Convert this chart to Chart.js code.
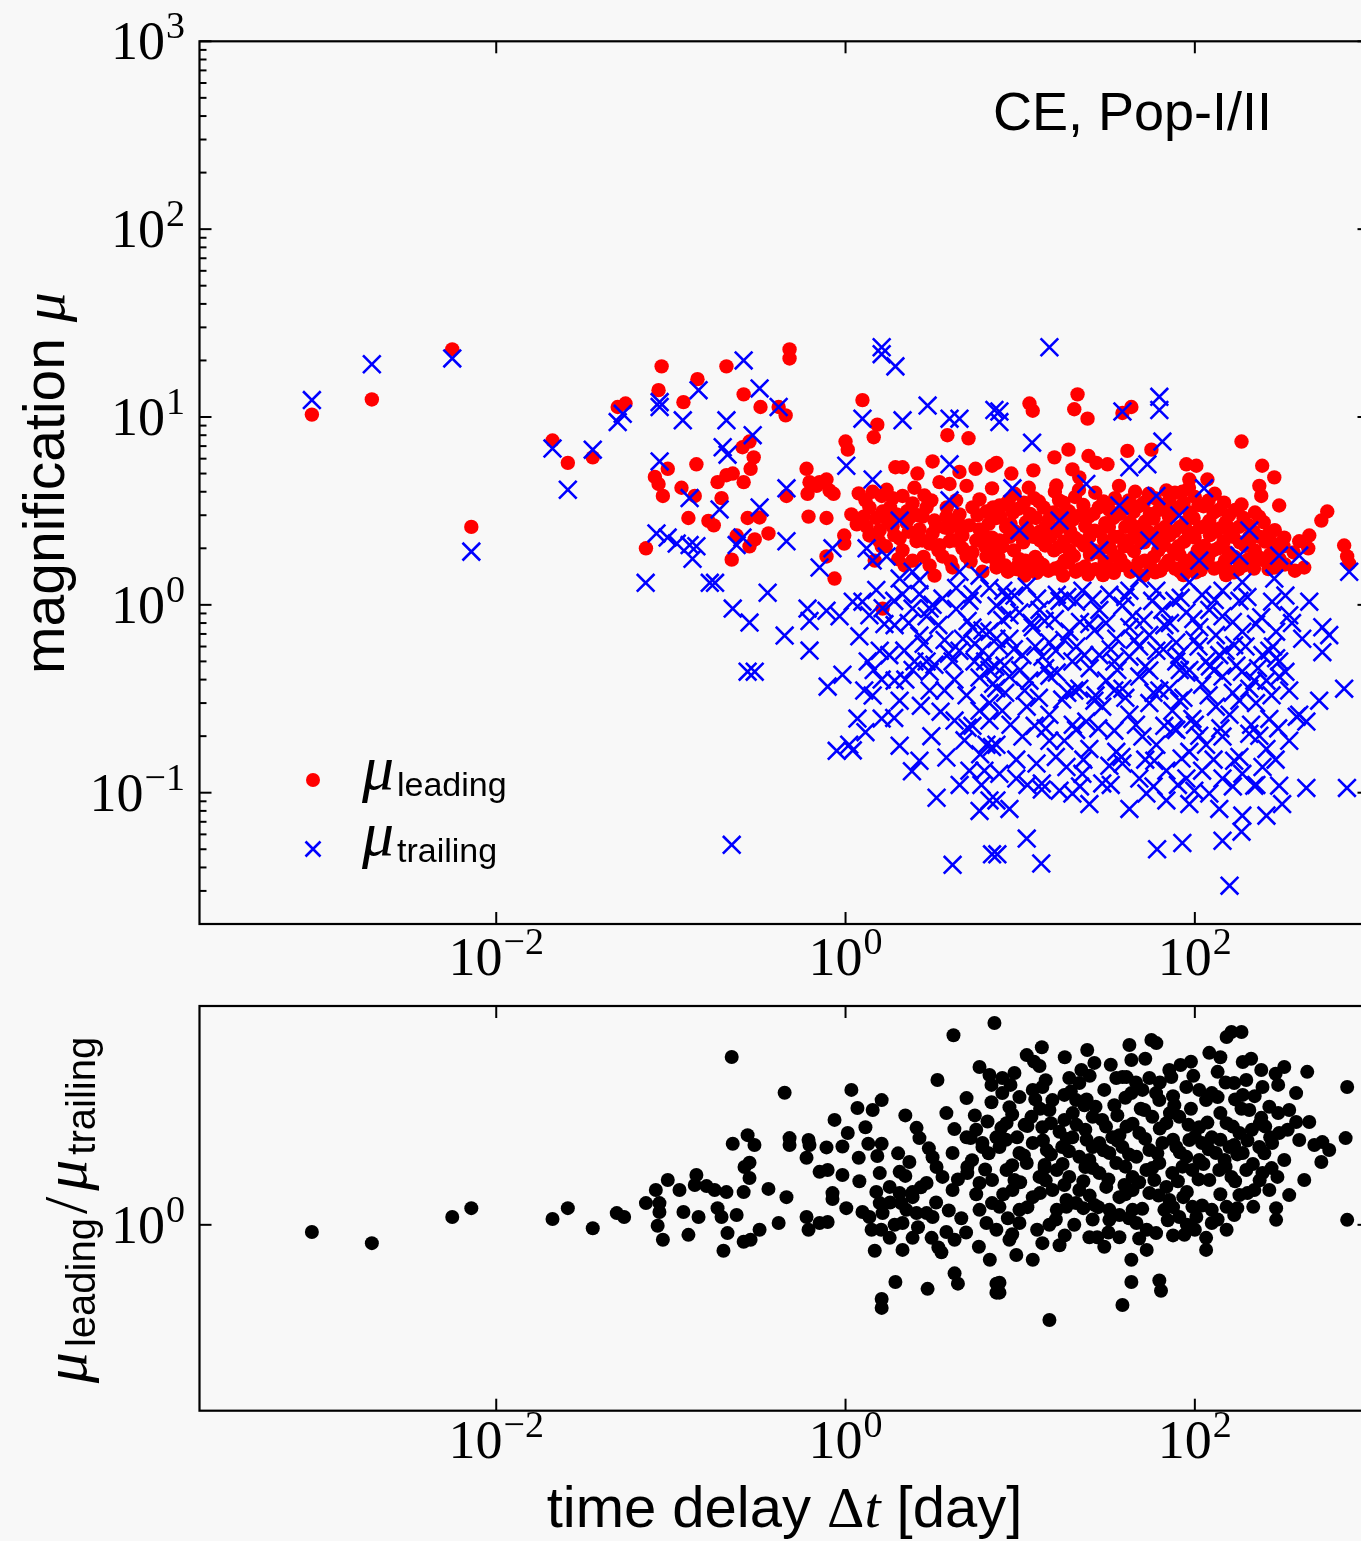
<!DOCTYPE html>
<html>
<head>
<meta charset="utf-8">
<title>CE, Pop-I/II magnification vs time delay</title>
<script src="https://cdn.jsdelivr.net/npm/chart.js@4.4.1/dist/chart.umd.min.js"></script>
<style>
  html, body { margin: 0; padding: 0; background: #f8f8f8; overflow: hidden; width: 1361px; height: 1541px; }
  .panel { position: absolute; left: 0; }
  canvas { display: block; }
</style>
</head>
<body>
<div class="panel" style="top:0;width:1400px;height:990px"><canvas id="muPanel" width="1400" height="990" style="width:1400px;height:990px"></canvas></div>
<div class="panel" style="top:990px;width:1400px;height:551px"><canvas id="ratioPanel" width="1400" height="551" style="width:1400px;height:551px"></canvas></div>
<script>
// ---- data: [time delay Δt in days, value] ----
const leadingMu = [
  [0.00088,10.3],[0.00194,12.4],[0.0056,22.9],[0.0072,2.6],[0.021,7.5],[0.0257,5.7],[0.0357,6.1],[0.0496,11.3],[0.055,11.8],
  [0.478,22.9],[0.478,20.5],[0.0885,18.6],[0.208,18.6],[0.142,15.9],[0.085,13.9],[0.118,12.0],[0.261,13.2],[0.326,11.3],[0.414,11.3],[0.454,10.2],
  [1.25,12.3],[1.52,9.1],[1.45,7.8],[3.83,8.0],[5.06,7.7],[1.0,7.4],[1.03,6.7],
  [0.096,5.3],[0.081,4.8],[0.085,4.4],[0.09,3.8],[0.14,5.6],[0.115,4.2],[0.137,3.8],[0.126,2.9],[0.164,2.8],[0.176,2.65],[0.185,4.5],[0.208,4.9],[0.226,5.0],[0.195,3.7],[0.261,4.5],[0.286,5.3],[0.298,6.1],[0.257,6.9],[0.282,7.4],
  [0.072,2.0],[0.223,1.74],[0.238,2.34],[0.275,2.9],[0.322,2.92],[0.282,2.05],[0.302,2.23],[0.362,2.4],[0.459,3.8],
  [0.598,5.3],[0.622,4.5],[0.683,4.3],[0.71,4.5],[0.778,4.65],[0.81,4.06],[0.606,3.9],[0.854,3.9],[0.614,2.95],[0.778,2.9],[0.778,1.81],[0.865,1.38],[0.983,2.34],[0.983,2.12],[1.08,3.03],[1.16,2.68],[1.19,3.92],[1.63,0.955],[1.61,2.05],
  [1.93,5.4],[2.12,5.4],[2.58,5.0],[3.15,5.8],[5.55,5.3],[6.9,5.5],
  [1.43,4.0],[1.61,3.8],[1.86,3.7],[2.12,3.8],[2.42,3.47],[2.91,3.3],[3.45,4.5],[3.94,4.4],[4.93,4.3],[5.85,3.64],[6.9,4.17],
  [1.37,3.3],[1.63,3.14],[1.96,3.03],[2.32,2.9],[2.76,2.95],[3.78,2.95],[4.49,3.03],[5.33,3.3],[6.41,3.14],[7.31,2.9],
  [1.32,2.61],[1.57,2.5],[1.86,2.61],[2.23,2.75],[2.65,2.52],[3.15,2.4],[3.94,2.18],[4.67,2.34],[5.85,2.52],[6.9,2.28],
  [1.37,2.34],[2.12,1.95],[2.42,1.72],[3.03,1.62],[3.59,1.81],[4.1,1.58],[4.93,1.81],[6.08,1.5],[7.31,1.58],
  [2.55,2.18],[3.03,2.12],[3.45,2.08],[5.33,1.9],[6.41,1.81],
  [1.74,2.81],[2.04,2.26],[2.83,3.82],[3.23,2.81],[4.3,3.6],[4.67,2.0],[5.6,2.2],[6.67,1.95],[2.18,1.62],[3.23,1.43],[4.21,2.2],[1.47,1.72],[1.72,4.1],[4.49,5.1],[7.61,3.38],[7.61,2.2],[3.69,2.58],[2.48,4.2],
  [1.3,3.6],[1.5,2.9],[1.55,2.2],[1.8,3.3],[1.9,2.35],[2.0,1.75],[2.25,3.15],[2.3,2.45],[2.6,3.0],[2.75,2.2],[2.8,1.8],[3.1,3.6],[3.3,2.6],[3.4,1.95],[3.8,3.3],[3.9,2.55],[4.0,1.7],[4.4,2.75],[4.6,2.45],[5.1,2.65],[5.2,1.7],[5.7,3.0],[6.1,2.4],[6.3,2.05],[6.6,2.7],[7.0,3.3],[7.1,2.05],[7.3,1.7],[1.27,2.95],[1.7,2.05],
  [11.3,11.8],[11.8,10.8],[21.3,13.2],[20.4,11.0],[24.3,9.8],[38.5,10.5],[43.3,11.3],[185,7.4],
  [15.7,6.1],[18.9,6.7],[24.6,6.2],[27.3,5.7],[31.6,5.6],[41.1,6.6],[56.4,6.7],[89.4,5.6],[102,5.5],[93,4.65],[118,4.65],[243,5.5],[285,4.77],[234,4.3],[240,3.8],[185,3.42],[304,3.38],[573,3.14],[530,2.81],
  [7.31,5.7],[8.9,5.0],[11.9,5.2],[16.1,4.32],[19.9,5.26],[21.8,4.77],[68.7,4.06],[84.8,4.0],
  [325,2.28],[396,2.18],[452,2.34],[446,2.0],[423,1.58],[716,2.07],[745,1.81],[765,1.66],
  [8.1,3.4],[8.3,2.6],[7.9,2.05],[8.2,1.62],
  [9.3,3.9],[9.1,3.1],[9.4,2.45],[9.2,1.95],[9.5,1.55],
  [10.5,3.5],[10.8,2.75],[10.4,2.15],[10.7,1.72],[10.6,1.43],
  [12.0,3.7],[12.3,2.9],[11.9,2.3],[12.2,1.8],[12.4,1.48],
  [13.6,3.3],[14.0,2.6],[13.9,2.07],[13.5,1.63],
  [15.8,4.0],[15.5,3.1],[16.0,2.45],[15.6,1.95],[15.9,1.56],
  [17.7,3.5],[18.2,2.75],[17.8,2.17],[18.0,1.72],[17.6,1.43],
  [20.6,3.75],[20.1,2.85],[20.5,2.28],[20.3,1.82],[20.8,1.5],
  [23.0,3.4],[23.6,2.62],[23.2,2.07],[23.5,1.6],
  [26.9,3.95],[26.3,3.05],[26.7,2.48],[26.4,1.95],[27.0,1.55],
  [30.0,3.55],[30.7,2.72],[30.2,2.2],[30.5,1.7],[29.8,1.44],
  [34.9,3.7],[34.2,2.9],[34.7,2.3],[35.0,1.82],[34.4,1.48],
  [39.0,3.35],[40.0,2.6],[39.4,2.05],[39.8,1.62],
  [45.5,4.0],[44.6,3.12],[45.3,2.45],[44.8,1.93],[45.8,1.57],
  [51.0,3.5],[52.0,2.78],[51.2,2.15],[51.7,1.72],[50.8,1.43],
  [59.0,3.7],[58.0,2.88],[58.9,2.3],[58.2,1.8],[59.3,1.49],
  [66.0,3.4],[67.5,2.6],[66.6,2.08],[67.2,1.62],
  [76.9,3.95],[75.6,3.1],[76.5,2.47],[75.9,1.95],[77.0,1.56],
  [86.3,3.5],[88.0,2.75],[86.8,2.17],[87.6,1.72],[86.0,1.44],
  [100,3.75],[98.4,2.9],[99.7,2.28],[98.8,1.8],[101,1.49],
  [112,3.35],[114,2.62],[113,2.06],[111,1.62],
  [130,3.9],[128,3.1],[131,2.45],[127,1.95],[129,1.56],
  [147,3.5],[150,2.75],[146,2.17],[149,1.72],[151,1.44],
  [170,3.2],[166,2.3],[169,1.8],[167,1.49],
  [190,2.9],[194,2.06],[191,1.62],
  [221,3.1],[217,2.45],[220,1.95],[218,1.56],
  [248,2.75],[253,2.17],[251,1.72],
  [287,2.5],[283,1.98],[286,1.58],
  [322,2.05],[328,1.64],
  [368,1.9],[374,1.52],
  [8.7,2.3],[12.9,2.45],[16.8,3.0],[24.9,2.3],[32.4,3.2],[48.1,2.6],[62.6,2.25],[71.4,3.6],[93,2.35],[121,2.8],[158,2.55],[205,2.3],[267,2.25],[9.9,1.75],[19.1,1.95],[37,1.62],[81.5,1.85],[180,1.7],
  [7.7,2.95],[7.5,1.8],[8.6,3.6],[8.8,2.7],[8.5,1.5],[9.8,3.25],[10.0,2.35],[9.7,1.62],
  [11.2,4.2],[11.4,3.05],[11.1,2.5],[11.5,1.58],[12.8,3.55],[13.0,2.2],[12.7,1.7],
  [14.6,2.85],[14.9,2.3],[14.5,1.52],[16.7,3.6],[16.9,2.6],[16.5,2.02],[17.0,1.6],
  [19.0,3.15],[19.3,2.48],[18.8,1.68],[21.7,4.1],[22.0,3.0],[21.5,2.2],[21.9,1.55],
  [24.7,2.95],[25.1,1.85],[24.5,1.45],[28.2,3.3],[28.6,2.45],[28.0,1.9],[28.8,1.52],
  [32.2,2.6],[32.7,2.0],[32.0,1.58],[36.8,4.3],[37.3,3.05],[36.5,2.3],[37.5,1.75],
  [41.9,3.6],[42.5,2.75],[41.6,2.2],[42.8,1.5],[47.8,3.35],[48.5,2.2],[47.5,1.68],
  [54.5,3.9],[55.3,3.05],[54.2,2.45],[55.6,1.6],[62.2,3.2],[63.0,2.5],[61.8,1.95],[63.4,1.52],
  [71.0,2.95],[71.8,2.35],[70.6,1.72],[81,3.3],[82,2.6],[80.5,2.05],[82.5,1.5],
  [92.5,4.2],[93.5,3.1],[92,2.45],[94,1.65],[105,3.4],[107,2.58],[104,1.95],[108,1.53],
  [120,3.6],[122,2.35],[119,1.78],[137,3.2],[139,2.55],[136,2.0],[140,1.58],
  [157,3.0],[159,2.4],[156,1.9],[160,1.5],[179,2.6],[181,2.15],[178,1.55],
  [204,2.65],[206,2.2],[203,1.75],[233,2.95],[236,2.3],[231,1.8],
  [266,2.4],[269,1.85],[264,1.55],[302,2.1],[306,1.75]
];

const trailingMu = [
  [0.00088,12.3],[0.00194,19.1],[0.0056,20.5],[0.0072,1.92],[0.021,6.8],[0.0257,4.1],[0.0357,6.7],[0.0496,9.4],[0.053,10.4],[0.0717,1.31],
  [0.261,20.0],[1.61,23.5],[1.61,21.6],[1.93,18.6],[0.322,14.2],[0.144,13.9],[0.0862,12.0],[0.0862,11.3],[0.117,9.6],[0.208,9.6],[0.414,11.3],[0.294,8.0],[0.198,6.9],[0.211,6.3],[1.25,9.8],[2.12,9.6],[2.95,11.5],[3.94,9.8],[4.49,9.8],[7.12,10.9],[1.01,5.5],[1.43,4.65],[3.94,5.6],[0.0862,5.8],[0.128,3.7],[0.19,3.22],[0.322,3.3],[0.459,4.17],
  [0.0827,2.4],[0.0958,2.28],[0.108,2.12],[0.128,2.08],[0.14,2.05],[0.133,1.76],[0.167,1.31],[0.179,1.31],[0.238,2.08],[0.257,2.28],[0.459,2.18],[0.358,1.16],[0.226,0.955],[0.282,0.805],[0.448,0.686],[0.622,0.571],[0.275,0.441],[0.302,0.441],[0.223,0.0528],
  [0.71,1.58],[0.606,0.955],[0.622,0.82],[0.778,0.93],[0.924,0.87],[1.10,1.04],[1.25,1.04],[1.63,0.96],[1.67,0.79],[0.842,2.0],[1.32,2.0],[1.43,1.72],[1.72,1.81],[2.04,1.38],[2.12,1.14],[2.65,1.14],[3.03,0.955],[2.65,0.686],[2.17,0.571],[2.48,0.50],[2.91,0.50],[3.23,0.48],[2.42,0.45],[3.03,0.44],[4.1,0.50],[1.34,0.50],[1.61,0.40],[1.43,0.329],[1.61,0.248],[1.17,0.248],[0.96,0.425],[0.79,0.367],[1.05,0.18],[1.10,0.168],[0.89,0.167],[3.78,0.154],[3.32,0.094],[4.1,0.0413],[4.93,0.33],[5.85,0.273],[5.33,0.227],[5.0,0.222],[5.85,0.41],[6.67,0.45],[6.41,0.18],[6.9,0.175],[5.85,0.080],[6.67,0.091],[6.9,0.047],[5.33,0.757],[6.08,0.73],[7.31,0.66],[3.15,1.0],[3.59,1.08],[4.3,0.95],[5.0,0.82],[2.42,0.955],[2.91,0.87],[4.3,1.23],[5.33,1.14],[6.67,1.23],[2.42,1.5],[4.49,1.5],[5.85,1.43],[1.78,0.54],[6.08,0.57],
  [1.37,0.88],[1.91,0.78],[3.69,0.65],[4.49,0.57],[5.47,0.50],[2.04,0.309],[3.03,0.35],[4.21,0.242],[3.69,0.35],[6.67,0.242],[2.65,0.148],[5.12,0.131],[2.04,0.178],[6.24,0.131],[1.57,0.57],[1.28,0.35],[1.91,0.395],[5.12,1.05],[2.65,1.35],
  [1.5,1.2],[1.9,1.05],[2.3,0.8],[2.8,0.62],[3.4,0.78],[3.9,0.55],[4.7,0.66],[5.5,0.62],[6.3,0.5],[7.0,0.38],[1.2,0.68],[1.45,0.45],[2.2,0.4],[2.7,0.29],[3.5,0.27],[4.2,0.4],[4.8,0.19],[5.9,0.16],[3.1,0.2],[2.4,0.13],[4.5,0.11],[6.0,0.11],[1.9,0.25],[1.3,0.21],[7.3,0.36],
  [14.7,23.5],[7.6,10.7],[7.6,9.4],[62.6,12.8],[62.6,10.9],[38.5,10.7],[11.7,7.3],[65.2,7.4],[53.5,5.6],[42.2,5.4],[9.03,4.17],[23.9,4.4],[60.2,3.8],[113,4.17],
  [9.9,2.49],[16.8,2.81],[28.4,1.95],[54.9,2.2],[106,1.72],[205,2.49],[3.94,3.6],[2.04,2.81],[37,3.38],[81.5,2.99],[180,1.83],[304,1.83],[396,1.83],[765,1.5],
  [8.0,1.19],[10.9,1.25],[16.2,1.13],[22.7,1.19],[32.4,1.13],[48.1,1.38],[60.2,1.19],[93,1.32],[110,1.13],[144,1.19],[187,1.32],[285,1.38],
  [7.31,0.99],[9.9,0.91],[12.9,0.94],[20.9,1.04],[28.4,0.94],[38.5,0.99],[43.9,0.87],[65.2,0.94],[89.4,0.91],[121,0.94],[144,0.87],[277,1.04],[452,1.04],
  [6.67,0.72],[8.68,0.66],[11.8,0.76],[14.7,0.63],[19.1,0.72],[24.9,0.79],[35.5,0.66],[42.2,0.76],[54.9,0.69],[78.3,0.63],[106,0.76],[132,0.69],[187,0.72],[224,0.79],[292,0.72],[412,0.66],[537,0.76],[588,0.69],
  [7.6,0.60],[10.3,0.54],[13.4,0.53],[19.9,0.50],[28.4,0.54],[42.2,0.53],[60.2,0.57],[78.3,0.50],[93,0.45],[116,0.50],[138,0.54],[173,0.475],[244,0.54],[304,0.50],
  [8.68,0.415],[11.3,0.395],[16.2,0.436],[21.8,0.358],[31.1,0.395],[38.5,0.358],[48.1,0.415],[71.4,0.358],[89.4,0.436],[110,0.376],[144,0.415],[205,0.358],[257,0.395],[304,0.415],
  [6.67,0.30],[7.9,0.273],[10.9,0.287],[14.7,0.26],[17.4,0.313],[23.9,0.239],[29.5,0.287],[42.2,0.26],[54.9,0.30],[74.3,0.273],[96.8,0.247],[132,0.287],[158,0.26],[224,0.30],[267,0.247],[396,0.26],[435,0.239],
  [7.31,0.18],[10.3,0.199],[12.4,0.143],[14.7,0.189],[20.9,0.216],[24.9,0.171],[35.5,0.165],[50.1,0.199],[60.2,0.18],[78.3,0.216],[93,0.165],[116,0.18],[144,0.199],[205,0.206],[257,0.171],
  [7.6,0.126],[9.5,0.119],[13.3,0.112],[18.4,0.137],[22.7,0.126],[29.5,0.112],[38.5,0.143],[48.1,0.119],[68.7,0.131],[89.4,0.119],[110,0.131],[144,0.119],[187,0.126],[244,0.137],
  [7.31,0.091],[8.68,0.082],[13.3,0.104],[19.9,0.099],[24.9,0.087],[42.2,0.082],[52.8,0.099],[68.7,0.091],[93,0.087],[121,0.099],[138,0.082],[187,0.0755],[257,0.0755],[316,0.087],[435,0.106],[743,0.106],
  [7.4,0.047],[10.9,0.057],[13.2,0.042],[60.8,0.050],[84.8,0.054],[144,0.0555],[185,0.062],[158,0.032],
  [716,0.358],[537,0.56],[383,0.254],[292,0.52],
  [9.27,1.12],[13.8,0.82],[17.9,0.65],[26.6,0.73],[34.6,0.50],[45.1,0.65],[66.9,0.78],[81.5,0.54],[99.3,0.65],[129,0.447],[168,0.61],[219,0.395],[20.4,0.35],[26.6,0.309],[34.6,0.35],[62.6,0.35],[81.5,0.309],[180,0.309],[12.1,0.227],[17.9,0.189],[34.6,0.214],[66.9,0.227],[106,0.201],[168,0.148],[16.8,0.1025],[32.4,0.139],[58.6,0.148],[99.3,0.1025],[219,0.109],[8.68,0.88],[8.13,0.475],[10.6,0.35],[347,0.35],[347,0.189],[304,0.109],[234,0.201],[42.2,1.19],[16.8,1.05],[180,1.05],[76.3,1.05],[54.9,0.447],[23.3,0.54],[14.7,0.42],[267,0.57],[347,0.88],[515,0.309],
  [8.4,1.1],[12.5,1.08],[18.6,1.1],[26,1.07],[40,1.1],[57,1.05],[83,1.09],[130,1.06],[200,1.1],[330,1.12],
  [7.9,0.83],[11.6,0.8],[15.8,0.84],[22,0.81],[31,0.8],[51,0.83],[72,0.8],[98,0.84],[165,0.81],[240,0.86],[360,0.8],
  [9.2,0.58],[12.2,0.6],[16,0.57],[21,0.6],[33,0.58],[48,0.6],[66,0.58],[105,0.6],[150,0.57],[195,0.6],[280,0.6],
  [7.2,0.47],[10,0.45],[13.9,0.46],[25,0.46],[36,0.45],[52,0.47],[82,0.45],[122,0.47],[186,0.44],[230,0.46],[330,0.44],
  [8.2,0.34],[12.8,0.32],[18.6,0.34],[27,0.33],[40,0.32],[58,0.34],[86,0.32],[120,0.33],[165,0.34],[275,0.33],
  [8.8,0.23],[14,0.22],[20,0.23],[28,0.22],[46,0.23],[76,0.22],[100,0.23],[140,0.22],[210,0.23],[300,0.22],
  [9.5,0.15],[16,0.155],[23,0.15],[38,0.155],[52,0.15],[84,0.152],[128,0.15],[180,0.155],[290,0.15],
  [11,0.11],[22,0.108],[33,0.11],[58,0.108],[80,0.11],[165,0.108],[225,0.11]
];

const muRatio = [
  [0.00088,0.86],[0.00194,0.68],[0.0056,1.18],[0.0072,1.42],[0.021,1.13],[0.0257,1.42],[0.0357,0.93],[0.049,1.28],[0.054,1.18],
  [0.223,34.2],[0.448,16.1],[1.08,17.1],[1.61,13.8],[1.17,11.7],[1.43,11.2],[0.865,9.1],[3.36,21.1],[4.15,54],[4.93,14.4],[3.78,10.5],[7.12,70],[5.85,27.7],[6.67,23.4],[6.85,19.0],[6.85,13.2],
  [0.275,6.6],[0.301,5.36],[0.226,5.5],[0.478,6.2],[0.478,5.36],[0.614,5.96],[0.622,5.36],[0.778,5.1],[0.96,5.2],[1.03,6.9],[1.35,5.5],[1.61,5.5],[1.52,4.25],[1.19,4.1],[0.598,4.1],[2.55,7.7],[2.65,6.2],
  [0.264,3.38],[0.282,3.7],[0.282,2.68],[0.71,3.05],[0.79,3.17],[0.96,2.85],[1.57,2.97],[2.04,3.05],[2.32,3.75],[3.15,4.15],[4.1,4.53],[4.98,3.38],[6.08,5.6],[7.31,6.3],[4.93,6.3],
  [0.096,2.57],[0.082,2.08],[0.112,2.08],[0.137,2.31],[0.14,2.85],[0.16,2.26],[0.178,2.08],[0.208,1.99],[0.261,1.99],[0.362,2.13],[0.459,1.79],
  [0.072,1.58],[0.086,1.58],[0.086,1.31],[0.084,0.98],[0.09,0.73],[0.118,1.31],[0.126,0.81],[0.144,1.18],[0.185,1.42],[0.195,1.18],[0.238,1.23],[0.211,0.84],[0.2,0.58],[0.261,0.70],[0.286,0.73],[0.322,0.90],[0.414,1.04],
  [0.598,1.18],[0.614,0.90],[0.71,1.04],[0.79,1.06],[0.842,1.95],[0.842,1.72],[1.01,1.42],[1.25,1.31],[1.37,1.18],[1.57,1.58],[1.63,1.28],[1.41,0.90],[1.47,0.58],[1.61,0.21],[1.61,0.174],
  [1.79,2.22],[2.04,1.95],[2.08,1.58],[2.23,1.37],[2.42,1.99],[2.55,1.28],[2.91,1.28],[3.15,1.18],[1.79,0.76],[1.91,1.0],[2.12,1.04],[2.42,0.76],[3.11,0.76],[2.12,0.59],[3.54,0.56],[3.78,0.86],[4.21,0.73],[4.6,1.15],[1.93,0.30],[2.95,0.26],[4.21,0.36],[4.4,0.29],
  [2.42,1.79],[2.91,2.41],[3.32,3.38],[3.59,2.74],[4.1,2.08],[4.98,2.97],[5.85,2.41],[6.9,2.57],[5.85,1.37],[6.9,1.58],[6.41,1.04],[7.31,0.90],[7.31,0.29],[7.31,0.24],[5.6,7.4],[6.08,5.15],[5.2,6.2],
  [1.2,2.5],[1.5,2.0],[1.8,1.6],[2.2,2.8],[2.7,2.2],[3.3,1.6],[3.9,1.35],[4.4,2.6],[5.3,3.9],[5.6,1.9],[6.3,3.2],[6.6,4.5],[3.0,5.0],[2.0,4.5],[1.3,7.8],[2.2,10],[4.2,7.5],[5.5,10],[6.5,8.8],[1.6,0.9],[2.6,0.95],[3.4,0.62],[4.9,0.85],[5.8,0.63],[6.7,0.48],
  [10.9,35.6],[13.3,42],[12.9,28.3],[24.2,39.6],[26.6,30.2],[22.4,26],[42.2,44],[43.3,32.1],[40.6,22.4],[56.4,48.9],[60.2,45.8],[152,52],[162,57.8],[185,57.8],[121,37.3],[135,25],[188,30.8],[240,26],[325,27.7],[440,25],[745,18.2],
  [9.27,24.4],[7.9,22],[19.1,22],[21.8,19.8],[35.5,22],[38.5,22.4],[71.4,26],[82.8,28.9],[73.3,22.4],[54.9,22],[50.1,17.1],[168,19.8],[197,21.1],[188,15.4],[244,18.2],[267,12],[240,9.5],
  [9.9,14.7],[11.8,17.1],[13.4,18.2],[15.3,13.8],[17.9,15.4],[20.9,13.8],[26,9.7],[29.5,9.1],[34.6,12.4],[43.3,16],[89.4,18.2],[106,17.1],[116,13.8],[135,14.7],
  [8.68,11.9],[8.35,8.5],[9.6,6.3],[11.6,9.7],[13.4,7.8],[16.8,7.1],[19.9,6.3],[23.6,7.4],[28.4,5.6],[33.7,6.3],[40.6,7.9],[48.1,6.9],[57.1,9.7],[68.7,8.5],[81.5,9.7],[106,7.8],[125,6.3],[152,8.5],[180,6.9],[212,7.4],[253,7.9],[304,6.9],[380,8.7],[452,8.7],
  [7.61,5.15],[9.9,4.53],[11.8,5.6],[14.2,4.83],[17.4,5.15],[21.8,4.18],[26,5.15],[32.4,4.53],[38.5,5.15],[46.3,4.18],[54.9,4.83],[65.2,5.6],[78.3,5.15],[89.4,4.18],[110,5.6],[132,4.53],[158,5.15],[188,4.53],[234,5.15],[277,5.6],[537,5.7],[588,4.83],[730,6.2],
  [8.35,3.17],[10.9,3.67],[12.9,2.74],[16.2,3.17],[19.1,2.74],[23.6,3.38],[28.4,2.97],[35.5,3.67],[44,2.74],[52.8,3.17],[62.6,3.67],[74.3,2.97],[96.8,3.17],[121,2.57],[138,3.17],[162,2.74],[197,3.17],[244,2.97],[297,2.74],[423,2.57],[530,3.75],
  [9.03,2.08],[11.8,1.79],[15.3,2.08],[18.4,1.69],[21.8,2.08],[31.1,2.22],[37,1.79],[44,2.08],[54.9,1.95],[68.7,2.22],[85.9,1.79],[96.8,1.46],[125,1.37],[152,1.46],[81.5,1.18],[102,1.18],[125,1.04],[152,0.90],
  [7.61,1.46],[9.9,1.37],[9.9,1.04],[16.2,1.37],[18.4,1.46],[20.9,1.58],[32.4,1.37],[32.4,1.11],[44,1.37],[46.3,1.04],[53,0.90],[60,0.84],[216,1.46],[292,1.42],[292,1.11],[745,1.11],
  [12.5,0.90],[13.4,0.68],[24.9,0.77],[27.6,0.77],[30.3,0.63],[37,0.77],[116,0.76],[116,0.59],[53,0.59],[9.5,0.53],[11.8,0.48],[7.61,0.295],[7.61,0.24],[43.3,0.48],[43.3,0.30],[62.6,0.31],[64,0.25],[38.5,0.185],[14.7,0.135],
  [10.6,8.2],[14.7,11.2],[17.9,9.1],[23.3,12.4],[30.3,17.1],[37,6.6],[51.4,11.2],[62.6,13.8],[76.3,12.4],[93,5.96],[106,3.91],[148,3.91],[168,5.36],[205,11.2],[219,2.08],[325,3.91],[347,11.2],[13.8,3.52],[24.9,3.91],[39.5,2.31],[58.6,2.57],[180,1.87],[17.9,2.31],[26.6,1.52],[71.4,1.69],[9.27,2.57],[37,1.23],[14.7,1.0],[20.4,1.0],[8.68,0.73],[16.8,0.65],[87.1,0.81],[66.9,1.37],[347,1.87],[267,2.08],[168,1.23],[396,5.96],[483,5.36],
  [12,31],[18,34],[33,29],[52,33],[95,31],[140,34],[210,33],[290,24],
  [8.8,19],[14,21],[25,23],[46,20],[63,20],[98,23],[150,20],[300,19],[380,16],
  [7.9,16],[12.2,14],[19.5,16.5],[24,14],[40,14.5],[60,16],[75,15],[125,16],[170,14],[220,15],
  [9,10.2],[13,11.5],[20,10.5],[27,12],[36,10],[49,11.5],[72,10.5],[95,11.5],[140,10.5],[185,11.5],[300,10.5],
  [7.8,7.7],[11,8],[15,8.5],[21,8.2],[31,7.9],[44,8.4],[63,7.6],[92,8.2],[118,8.6],[165,7.9],[235,8.4],[340,7.4],
  [8.3,6],[13.5,5.9],[18.5,6.1],[24,6],[36,5.9],[52,6.1],[75,6],[100,6.4],[140,6],[200,5.9],[270,6.3],
  [10.5,4.3],[15,4.4],[19,4.7],[30,4.8],[42,4.4],[61,4.5],[82,4.6],[120,4.9],[175,4.4],[250,4.5],
  [9,3.5],[13.8,3.3],[17.5,3.6],[26,3.3],[40,3.4],[57,3.3],[85,3.4],[112,3.6],[150,3.4],[215,3.6],[275,3.3],
  [10,2.45],[14,2.55],[23,2.5],[32,2.6],[48,2.45],[80,2.5],[105,2.6],[170,2.5],[235,2.55],
  [8,1.9],[13,1.95],[25,1.85],[40,1.9],[62,1.85],[90,2.0],[140,1.9],[200,1.95],
  [11,1.45],[23,1.42],[28,1.45],[50,1.4],[75,1.45],[110,1.5],[175,1.42],
  [8.5,1.15],[16,1.12],[26,1.12],[42,1.15],[70,1.1],[90,1.0],[135,1.12],
  [9,0.82],[18,0.8],[32,0.85],[48,0.75],[75,0.8],[100,0.9]
];

// ---- axes: limits and labelled decades ----
const xRange = [2e-4, 1e3];
const muRange = [0.02, 1e3];
const ratioRange = [0.02, 1e2];
const xTickExps = [-2, 0, 2];
const muTickExps = [-1, 0, 1, 2, 3];
const ratioTickExps = [0];

// ---- styling ----
const INK = '#000000';
const RED = '#ff0000';
const BLUE = '#0000ff';
const SANS = '"Liberation Sans", Arial, sans-serif';
const SERIF = '"Liberation Serif", "Times New Roman", serif';
const TICK_FONT = '54px ' + SERIF;
const SUP_FONT = '38px ' + SERIF;

function minorTicks(lo, hi) {
  const out = [];
  for (let e = Math.floor(Math.log10(lo)); e <= Math.ceil(Math.log10(hi)); e++) {
    for (let m = 2; m <= 9; m++) {
      const v = m * Math.pow(10, e);
      if (v >= lo * 0.999 && v <= hi * 1.001) out.push(v);
    }
  }
  return out;
}

// "10" with a raised exponent, like a math-mode tick label
function powLabel(ctx, exp, x, baseline, align) {
  const base = '10';
  const sup = exp < 0 ? '\u2212' + (-exp) : String(exp);
  ctx.font = TICK_FONT;
  const w1 = ctx.measureText(base).width;
  ctx.font = SUP_FONT;
  const w2 = ctx.measureText(sup).width;
  const total = w1 + 1 + w2;
  const x0 = align === 'center' ? x - total / 2 : x - total;
  ctx.textAlign = 'left';
  ctx.textBaseline = 'alphabetic';
  ctx.font = TICK_FONT;
  ctx.fillText(base, x0, baseline);
  ctx.font = SUP_FONT;
  ctx.fillText(sup, x0 + w1 + 1, baseline - 21);
}

// text made of runs with their own fonts and vertical shifts
function runsWidth(ctx, runs) {
  let w = 0;
  for (const r of runs) { ctx.font = r.font; w += ctx.measureText(r.t).width + (r.gap || 0); }
  return w;
}
function drawRuns(ctx, runs, x, y) {
  ctx.textAlign = 'left';
  ctx.textBaseline = 'alphabetic';
  for (const r of runs) {
    ctx.font = r.font;
    ctx.fillText(r.t, x, y + (r.dy || 0));
    x += ctx.measureText(r.t).width + (r.gap || 0);
  }
}

// frame with inward ticks on all four sides, plus tick labels
function makeAxesPlugin(cfg, extra) {
  return {
    id: 'mplAxes',
    afterDatasetsDraw(chart) {
      const ctx = chart.ctx, a = chart.chartArea;
      const sx = chart.scales.x, sy = chart.scales.y;
      const seg = (x1, y1, x2, y2) => { ctx.beginPath(); ctx.moveTo(x1, y1); ctx.lineTo(x2, y2); ctx.stroke(); };
      ctx.save();
      ctx.strokeStyle = INK;
      ctx.fillStyle = INK;
      ctx.lineWidth = 2;
      for (const e of cfg.xExps) {
        const p = sx.getPixelForValue(Math.pow(10, e));
        seg(p, a.bottom, p, a.bottom - 12);
        seg(p, a.top, p, a.top + 12);
      }
      for (const e of cfg.yExps) {
        const p = sy.getPixelForValue(Math.pow(10, e));
        seg(a.left, p, a.left + 12, p);
        seg(a.right, p, a.right - 12, p);
      }
      for (const v of cfg.yMinor) {
        const p = sy.getPixelForValue(v);
        seg(a.left, p, a.left + 7, p);
        seg(a.right, p, a.right - 7, p);
      }
      ctx.lineWidth = 2.2;
      ctx.strokeRect(a.left, a.top, a.right - a.left, a.bottom - a.top);
      for (const e of cfg.xExps) powLabel(ctx, e, sx.getPixelForValue(Math.pow(10, e)), cfg.xLabelBaseline, 'center');
      for (const e of cfg.yExps) powLabel(ctx, e, cfg.yLabelRight, sy.getPixelForValue(Math.pow(10, e)) + 18, 'right');
      if (extra) extra(ctx, chart);
      ctx.restore();
    }
  };
}

const toPoints = arr => arr.map(([x, y]) => ({ x, y }));

function baseOptions(yRange, padding) {
  return {
    responsive: false,
    animation: false,
    devicePixelRatio: 1,
    events: [],
    layout: { padding },
    plugins: { legend: { display: false }, tooltip: { enabled: false }, title: { display: false } },
    scales: {
      x: { type: 'logarithmic', min: xRange[0], max: xRange[1], display: false },
      y: { type: 'logarithmic', min: yRange[0], max: yRange[1], display: false }
    }
  };
}

// ---- upper panel: magnifications ----
const upperExtra = (ctx) => {
  const yRuns = [
    { t: 'magnification ', font: '57px ' + SANS },
    { t: '\u03bc', font: 'italic 60px ' + SERIF }
  ];
  ctx.save();
  ctx.translate(64, 483);
  ctx.rotate(-Math.PI / 2);
  drawRuns(ctx, yRuns, -runsWidth(ctx, yRuns) / 2, 0);
  ctx.restore();

  ctx.font = '54px ' + SANS;
  ctx.textAlign = 'right';
  ctx.textBaseline = 'alphabetic';
  ctx.fillText('CE, Pop-I/II', 1272, 130);

  // legend
  ctx.fillStyle = RED;
  ctx.beginPath(); ctx.arc(313, 780, 7, 0, Math.PI * 2); ctx.fill();
  ctx.strokeStyle = BLUE; ctx.lineWidth = 2.6;
  ctx.beginPath();
  ctx.moveTo(305.5, 841.5); ctx.lineTo(320.5, 856.5);
  ctx.moveTo(320.5, 841.5); ctx.lineTo(305.5, 856.5);
  ctx.stroke();
  ctx.fillStyle = INK;
  drawRuns(ctx, [{ t: '\u03bc', font: 'italic 64px ' + SERIF }], 362, 789);
  drawRuns(ctx, [{ t: 'leading', font: '34px ' + SANS }], 397, 796);
  drawRuns(ctx, [{ t: '\u03bc', font: 'italic 64px ' + SERIF }], 362, 855);
  drawRuns(ctx, [{ t: 'trailing', font: '34px ' + SANS }], 397, 862);
};

new Chart(document.getElementById('muPanel'), {
  type: 'scatter',
  data: {
    datasets: [
      {
        label: '\u03bc trailing',
        data: toPoints(trailingMu),
        order: 0,
        pointStyle: 'crossRot',
        pointRadius: 12.5,
        pointHoverRadius: 12.5,
        pointBorderWidth: 2.6,
        pointBorderColor: BLUE,
        pointBackgroundColor: BLUE
      },
      {
        label: '\u03bc leading',
        data: toPoints(leadingMu),
        order: 1,
        pointStyle: 'circle',
        pointRadius: 7.2,
        pointHoverRadius: 7.2,
        pointBorderWidth: 0,
        pointBackgroundColor: RED,
        pointBorderColor: RED
      }
    ]
  },
  options: baseOptions(muRange, { left: 199.5, right: 30.5, top: 41.3, bottom: 66 }),
  plugins: [makeAxesPlugin({
    xExps: xTickExps,
    yExps: muTickExps,
    yMinor: minorTicks(muRange[0], muRange[1]),
    xLabelBaseline: 975,
    yLabelRight: 185
  }, upperExtra)]
});

// ---- lower panel: magnification ratio ----
const lowerExtra = (ctx) => {
  const yRuns = [
    { t: '\u03bc', font: 'italic 62px ' + SERIF, gap: 5 },
    { t: 'leading', font: '40px ' + SANS, dy: 9, gap: 4 },
    { t: '/', font: '62px ' + SERIF, gap: 6 },
    { t: '\u03bc', font: 'italic 62px ' + SERIF, gap: 5 },
    { t: 'trailing', font: '40px ' + SANS, dy: 9 }
  ];
  ctx.save();
  ctx.translate(86, 220);
  ctx.rotate(-Math.PI / 2);
  drawRuns(ctx, yRuns, -runsWidth(ctx, yRuns) / 2, 0);
  ctx.restore();

  const xRuns = [
    { t: 'time delay ', font: '58px ' + SANS },
    { t: '\u0394', font: '58px ' + SERIF },
    { t: 't', font: 'italic 58px ' + SERIF },
    { t: ' [day]', font: '58px ' + SANS }
  ];
  drawRuns(ctx, xRuns, 784.5 - runsWidth(ctx, xRuns) / 2, 537);
};

new Chart(document.getElementById('ratioPanel'), {
  type: 'scatter',
  data: {
    datasets: [{
      label: '\u03bc leading / \u03bc trailing',
      data: toPoints(muRatio),
      pointStyle: 'circle',
      pointRadius: 7,
      pointHoverRadius: 7,
      pointBorderWidth: 0,
      pointBackgroundColor: INK,
      pointBorderColor: INK
    }]
  },
  options: baseOptions(ratioRange, { left: 199.5, right: 30.5, top: 16, bottom: 130.3 }),
  plugins: [makeAxesPlugin({
    xExps: xTickExps,
    yExps: ratioTickExps,
    yMinor: [],
    xLabelBaseline: 468,
    yLabelRight: 185
  }, lowerExtra)]
});
</script>
</body>
</html>
